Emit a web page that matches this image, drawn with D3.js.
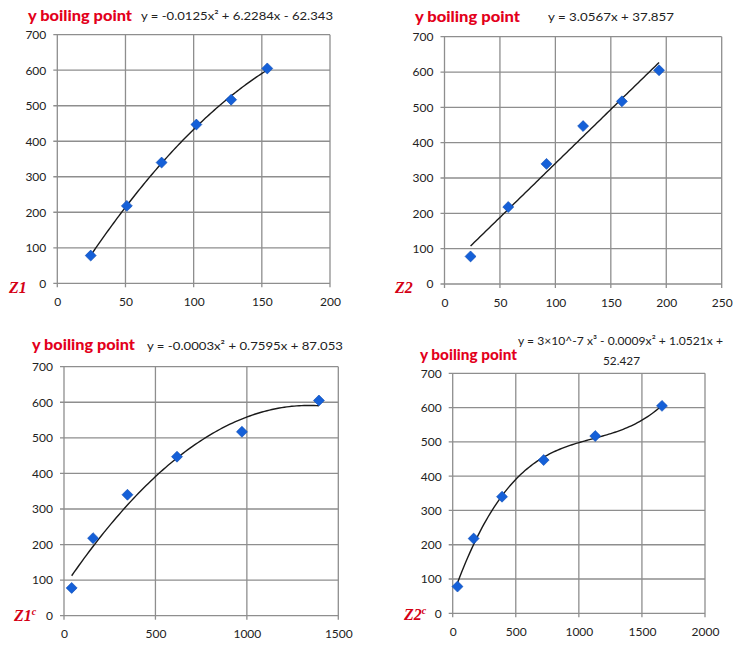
<!DOCTYPE html>
<html>
<head>
<meta charset="utf-8">
<script src="https://cdn.jsdelivr.net/npm/d3@7"></script>
<style>
  html, body { margin: 0; padding: 0; background: #fff; }
  svg { display: block; }
</style>
</head>
<body>
<svg id="chart" width="734" height="647"></svg>
<script>
// ---- data ----
const boilingPoint = [78, 218, 340, 447, 517, 605];
const z1  = [24.5, 51, 76.5, 102, 127.5, 154];
const z2  = [23.5, 57.5, 92, 125, 160, 193.5];
const z1c = [42, 159, 347, 618, 973, 1394];
const z2c = [38, 166, 391, 721, 1130, 1659];
const yTicks = [0, 100, 200, 300, 400, 500, 600, 700];
const xTicks1 = [0, 50, 100, 150, 200];
const xTicks2 = [0, 50, 100, 150, 200, 250];
const xTicks3 = [0, 500, 1000, 1500];
const xTicks4 = [0, 500, 1000, 1500, 2000];
const titleText = "y boiling point";
const equations = [
  ["y = -0.0125x\u00B2 + 6.2284x - 62.343"],
  ["y = 3.0567x + 37.857"],
  ["y = -0.0003x\u00B2 + 0.7595x + 87.053"],
  ["y = 3\u00D710^-7 x\u00B3 - 0.0009x\u00B2 + 1.0521x +", "52.427"]
];
const axisNames = ["Z1", "Z2", "Z1", "Z2"];
const axisSup = ["", "", "c", "c"];
const fitDegree = [2, 1, 2, 3];

// ---- layout ----
const panels = [
  {xs: z1,  xt: xTicks1, l: 57.3,  r: 330,   t: 34.7,  b: 283.3,
   title: {x0: 28, x1: 132, y: 21}, eq: [{x0: 141, x1: 333, y: 20}], zl: {x0: 9, x1: 28, y: 293}},
  {xs: z2,  xt: xTicks2, l: 444.5, r: 721.7, t: 36.7,  b: 284,
   title: {x0: 415, x1: 520, y: 22}, eq: [{x0: 548, x1: 674, y: 21}], zl: {x0: 395, x1: 415, y: 293}},
  {xs: z1c, xt: xTicks3, l: 64,    r: 338.3, t: 366.7, b: 615.7,
   title: {x0: 32, x1: 135, y: 350}, eq: [{x0: 147, x1: 343, y: 350}], zl: {x0: 14, x1: 40, y: 621}},
  {xs: z2c, xt: xTicks4, l: 452.7, r: 705,   t: 373.3, b: 613.3,
   title: {x0: 420, x1: 517, y: 360}, eq: [{x0: 518, x1: 723, y: 345}, {x0: 603, x1: 640, y: 365}], zl: {x0: 404, x1: 430, y: 620}}
];

const svg = d3.select("#chart");
svg.append("rect").attr("width", 734).attr("height", 647).attr("fill", "#fff");

// least-squares polynomial fit (scaled x for stability)
function polyfit(xs, ys, deg, s) {
  const n = deg + 1;
  const A = Array.from({length: n}, () => new Array(n + 1).fill(0));
  xs.forEach((xv, k) => {
    const t = xv / s;
    for (let i = 0; i < n; i++) {
      for (let j = 0; j < n; j++) A[i][j] += Math.pow(t, i + j);
      A[i][n] += ys[k] * Math.pow(t, i);
    }
  });
  for (let c = 0; c < n; c++) {
    let p = c;
    for (let r = c + 1; r < n; r++) if (Math.abs(A[r][c]) > Math.abs(A[p][c])) p = r;
    [A[c], A[p]] = [A[p], A[c]];
    for (let r = 0; r < n; r++) {
      if (r === c) continue;
      const f = A[r][c] / A[c][c];
      for (let k = c; k <= n; k++) A[r][k] -= f * A[c][k];
    }
  }
  const coef = A.map((row, i) => row[n] / row[i]);
  return xv => coef.reduce((acc, cv, i) => acc + cv * Math.pow(xv / s, i), 0);
}

panels.forEach((p, i) => {
  const xDom = [p.xt[0], p.xt[p.xt.length - 1]];
  const x = d3.scaleLinear().domain(xDom).range([p.l, p.r]);
  const y = d3.scaleLinear().domain([0, 700]).range([p.b, p.t]);
  const g = svg.append("g");

  // gridlines
  g.append("g").selectAll("line.h").data(yTicks).join("line")
    .attr("x1", p.l - 4).attr("x2", p.r).attr("y1", d => y(d)).attr("y2", d => y(d))
    .attr("stroke", "#8e8e8e").attr("stroke-width", 1.3);
  g.append("g").selectAll("line.v").data(p.xt).join("line")
    .attr("x1", d => x(d)).attr("x2", d => x(d)).attr("y1", p.t).attr("y2", p.b + 4)
    .attr("stroke", "#8e8e8e").attr("stroke-width", 1.3);

  // axes labels
  const yAxis = d3.axisLeft(y).tickValues(yTicks).tickFormat(d3.format("d")).tickSize(0).tickPadding(11);
  const ya = g.append("g").attr("transform", `translate(${p.l},0)`).call(yAxis);
  const xAxis = d3.axisBottom(x).tickValues(p.xt).tickFormat(d3.format("d")).tickSize(0).tickPadding(14);
  const xa = g.append("g").attr("transform", `translate(0,${p.b})`).call(xAxis);
  [ya, xa].forEach(a => {
    a.select(".domain").remove();
    a.selectAll("text").attr("font-family", "Lato, 'Open Sans', sans-serif")
      .attr("font-size", 12).attr("fill", "#222");
  });

  // trendline
  const f = polyfit(p.xs, boilingPoint, fitDegree[i], 1000);
  const x0 = d3.min(p.xs), x1 = d3.max(p.xs);
  const pts = d3.range(0, 101).map(k => x0 + (x1 - x0) * k / 100);
  g.append("path")
    .attr("d", d3.line().x(d => x(d)).y(d => y(f(d))).curve(d3.curveLinear)(pts))
    .attr("fill", "none").attr("stroke", "#1a1a1a").attr("stroke-width", 1.4);

  // markers
  const sym = d3.symbol(d3.symbolSquare, 60);
  g.append("g").selectAll("path").data(p.xs.map((xv, k) => [xv, boilingPoint[k]])).join("path")
    .attr("d", sym)
    .attr("transform", d => `translate(${x(d[0])},${y(d[1])}) rotate(45)`)
    .attr("fill", "#1560d8").attr("stroke", "#0b4bb5").attr("stroke-width", 0.6);

  // title
  g.append("text").text(titleText)
    .attr("x", p.title.x0).attr("y", p.title.y)
    .attr("textLength", p.title.x1 - p.title.x0).attr("lengthAdjust", "spacingAndGlyphs")
    .attr("font-family", "Lato, 'Open Sans', sans-serif").attr("font-weight", "900")
    .attr("font-size", 14.5).attr("fill", "#e3001b");

  // equation
  equations[i].forEach((line, k) => {
    g.append("text").text(line)
      .attr("x", p.eq[k].x0).attr("y", p.eq[k].y)
      .attr("textLength", p.eq[k].x1 - p.eq[k].x0).attr("lengthAdjust", "spacingAndGlyphs")
      .attr("font-family", "Lato, 'Open Sans', sans-serif")
      .attr("font-size", 12).attr("fill", "#222");
  });

  // axis name (Z)
  const zt = g.append("text").attr("x", p.zl.x0).attr("y", p.zl.y)
    .attr("font-family", "'Liberation Serif', 'DejaVu Serif', serif")
    .attr("font-weight", "bold").attr("font-style", "italic")
    .attr("font-size", 16).attr("fill", "#d40014");
  zt.append("tspan").text(axisNames[i]);
  if (axisSup[i]) {
    zt.append("tspan").text(axisSup[i]).attr("font-size", 10).attr("dy", -6);
  }
});
</script>
</body>
</html>
